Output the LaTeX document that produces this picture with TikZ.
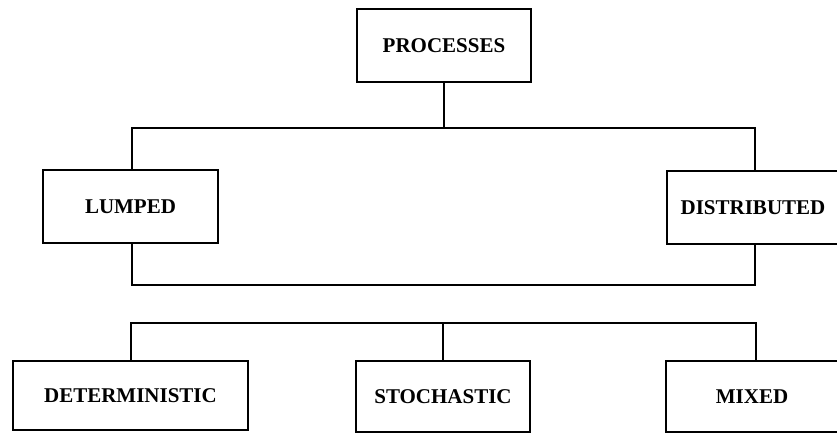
\documentclass[tikz,border=0pt]{standalone}
\usepackage{fontspec}
\setmainfont{Liberation Serif}
\begin{document}
\begin{tikzpicture}[x=1pt,y=1pt,
  boxnode/.style={draw, line width=1.8pt, rectangle, inner sep=0pt, align=center,
    font=\fontsize{21}{25}\selectfont\bfseries},
  conn/.style={line width=1.8pt}]
\useasboundingbox (0,0) rectangle (837,433);
\clip (0,0) rectangle (837,433);
\fill[white] (0,0) rectangle (837,433);
\node[boxnode, minimum width=174pt, minimum height=73pt] (proc) at (444,387.5) {PROCESSES};
\node[boxnode, minimum width=175pt, minimum height=73pt] (lump) at (130.5,226.5) {LUMPED};
\node[boxnode, minimum width=172pt, minimum height=73pt] (dist) at (753,225.5) {DISTRIBUTED};
\node[boxnode, minimum width=235pt, minimum height=69pt] (det) at (130.5,37.5) {DETERMINISTIC};
\node[boxnode, minimum width=174pt, minimum height=71pt] (sto) at (443,36.5) {STOCHASTIC};
\node[boxnode, minimum width=172pt, minimum height=71pt] (mix) at (752,36.5) {MIXED};
% upper bracket coordinates
\coordinate (ua) at (132,305);
\coordinate (ub) at (755,305);
\coordinate (la) at (132,148);
\coordinate (lb) at (755,148);
\draw[conn] (proc.south) -- (proc.south |- ua);
\draw[conn] (lump.north -| ua) -- (ua) -- (ub) -- (dist.north -| ub);
\draw[conn] (lump.south -| la) -- (la) -- (lb) -- (dist.south -| lb);
% lower tree
\coordinate (ba) at (131,110);
\coordinate (bb) at (756,110);
\draw[conn] (det.north -| ba) -- (ba) -- (bb) -- (mix.north -| bb);
\draw[conn] (sto.north) -- (sto.north |- ba);
\end{tikzpicture}
\end{document}
